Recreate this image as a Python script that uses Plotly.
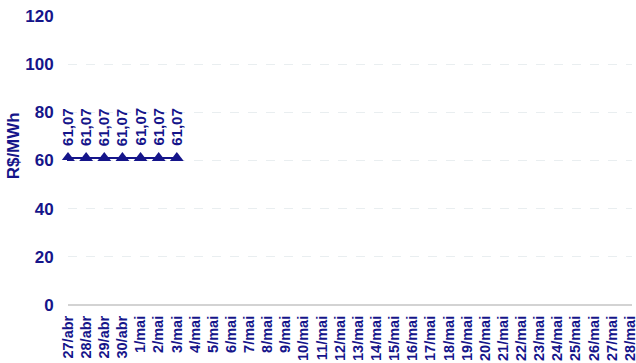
import plotly.graph_objects as go

# Daily categories (27/abr .. 28/mai)
days = ["27/abr", "28/abr", "29/abr", "30/abr"] + [f"{d}/mai" for d in range(1, 29)]
# Price series (R$/MWh), only the first seven days published
prices = [61.07, 61.07, 61.07, 61.07, 61.07, 61.07, 61.07]
y_ticks = [0, 20, 40, 60, 80, 100, 120]

NAVY = "#15158a"
FONT = "Liberation Sans, Arial, sans-serif"

fig = go.Figure()
fig.add_trace(go.Scatter(
    x=days[:len(prices)], y=prices, mode="lines+markers",
    line=dict(color=NAVY, width=2),
    marker=dict(symbol="triangle-up", size=12, color=NAVY),
    hoverinfo="skip", showlegend=False, cliponaxis=False,
))

# Value labels, rotated, above each point
for d, v in zip(days, prices):
    fig.add_annotation(
        x=d, y=v, text=f"{v:.2f}".replace(".", ","), textangle=-90,
        showarrow=False, yanchor="bottom", yshift=10,
        font=dict(family=FONT, size=15, color=NAVY, weight="bold"),
    )

# Axis title
fig.add_annotation(
    xref="paper", yref="paper", x=-0.097, y=0.55, text="R$/MWh",
    textangle=-90, showarrow=False, xanchor="center", yanchor="middle",
    font=dict(family=FONT, size=17, color=NAVY, weight="bold"),
)

fig.update_layout(
    width=636, height=363,
    margin=dict(l=68, r=4, t=16, b=58),
    plot_bgcolor="white", paper_bgcolor="white",
    font=dict(family=FONT, color=NAVY),
)
fig.update_xaxes(
    type="category", categoryorder="array", categoryarray=days,
    range=[0, 31.1], tickangle=-90, showgrid=False, automargin=False,
    tickfont=dict(family=FONT, size=14.5, color=NAVY, weight="bold"),
    showline=False, ticks="outside", ticklen=4, tickcolor="white",
)
fig.update_yaxes(
    range=[0, 120], tickvals=y_ticks, showgrid=True, automargin=False,
    gridcolor="#e9eef0", griddash="dash", gridwidth=1,
    zeroline=True, zerolinecolor="#d3d3d3", zerolinewidth=1.5,
    tickfont=dict(family=FONT, size=17, color=NAVY, weight="bold"),
    ticks="outside", ticklen=10, tickcolor="white",
)

fig.write_html("out.html")
